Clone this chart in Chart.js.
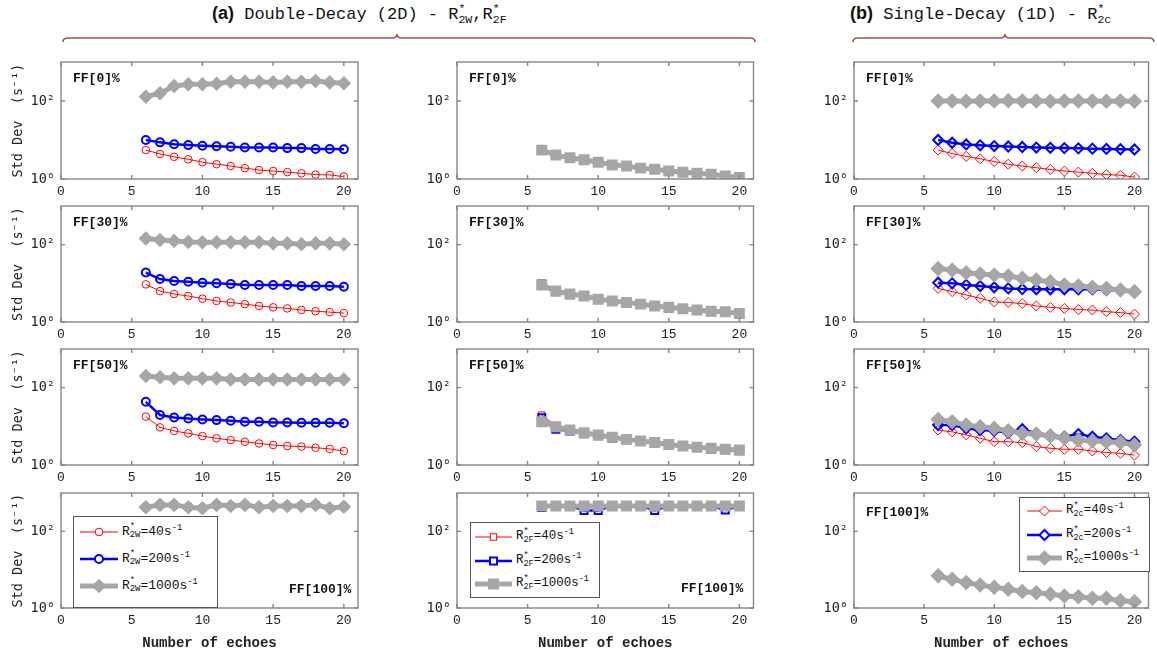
<!DOCTYPE html>
<html>
<head>
<meta charset="utf-8">
<script src="https://cdn.jsdelivr.net/npm/chart.js@4.4.0/dist/chart.umd.min.js"></script>
<style>
  body { margin: 0; background: #fff; width: 1157px; height: 657px; position: relative; overflow: hidden;
         font-family: 'Liberation Mono', 'Courier New', monospace; color: #111; }
  canvas { position: absolute; }
  .title { position: absolute; top: 3px; font-size: 17px; white-space: nowrap; }
  .title b { font-family: 'Liberation Sans', Arial, sans-serif; font-size: 18px; }
  .stk { display: inline-block; vertical-align: -0.32em; font-size: 0.68em; line-height: 0.9em; text-align: left; }
  .stk span { display: block; }
  .ff { position: absolute; font-weight: bold; font-size: 13px; line-height: 15px; white-space: nowrap; }
  .legend { position: absolute; border: 1px solid #555; background: #fff; box-sizing: border-box; }
  .legend .row { position: absolute; left: 0; height: 20px; display: flex; align-items: center; white-space: nowrap; }
  .legend sup { font-size: 0.68em; vertical-align: 0.55em; line-height: 0; }
  #braces { position: absolute; left: 0; top: 0; }
</style>
</head>
<body>

<div class="title" style="left:212px"><b>(a)</b> Double-Decay (2D) - R<span class="stk"><span>*</span><span>2W</span></span>,R<span class="stk"><span>*</span><span>2F</span></span></div>
<div class="title" style="left:850px"><b>(b)</b> Single-Decay (1D) - R<span class="stk"><span>*</span><span>2c</span></span></div>

<svg id="braces" width="1157" height="50">
  <path d="M63,42 Q63,38 68,38 L392,38 Q397,38 397,34 Q397,38 402,38 L750,38 Q755,38 755,42"
        fill="none" stroke="#a0564a" stroke-width="1.6"/>
  <path d="M853,42 Q853,38 858,38 L1000,38 Q1005,38 1005,34 Q1005,38 1010,38 L1149,38 Q1154,38 1154,42"
        fill="none" stroke="#a0564a" stroke-width="1.6"/>
</svg>

<script>
// ---- data ----
const echoes = [6, 7, 8, 9, 10, 11, 12, 13, 14, 15, 16, 17, 18, 19, 20];
const ffLabels = ['FF[0]%', 'FF[30]%', 'FF[50]%', 'FF[100]%'];
const xTicks = [0, 5, 10, 15, 20];
const yTicks = [1, 100];
const yTickLabels = ['10\u2070', '10\u00b2'];
const rateLabels = ['40', '200', '1000'];
const subLabels = ['2W', '2F', '2c'];

// (a) left column, R*2W -- one row per FF level
const w40 = [
  [5.5, 4.4, 3.7, 3.2, 2.7, 2.4, 2.15, 1.9, 1.7, 1.6, 1.5, 1.4, 1.3, 1.27, 1.15],
  [9.4, 6.3, 5.3, 4.7, 4.0, 3.5, 3.2, 2.9, 2.6, 2.4, 2.25, 2.05, 1.9, 1.8, 1.7],
  [17.8, 9.4, 7.6, 6.6, 5.6, 4.9, 4.4, 4.0, 3.6, 3.3, 3.1, 3.0, 2.8, 2.6, 2.3],
  [425, 490, 490, 425, 400, 490, 460, 490, 425, 460, 460, 440, 490, 400, 440]
];
const w200 = [
  [10, 8.7, 7.8, 7.4, 7.1, 6.9, 6.7, 6.4, 6.4, 6.4, 6.2, 6.2, 5.9, 5.9, 5.8],
  [19, 12.9, 11.5, 11, 10.4, 10, 9.6, 9.1, 9.1, 9.1, 9.1, 8.5, 8.5, 8.5, 8.2],
  [43, 19.6, 17, 16, 15.1, 14.5, 13.9, 13.1, 13.1, 12.6, 12.6, 12.4, 12.4, 12.4, 12.0],
  [425, 490, 490, 425, 400, 490, 460, 490, 425, 460, 460, 460, 490, 400, 440]
];
const w1000 = [
  [129, 158, 241, 268, 268, 277, 311, 311, 311, 300, 311, 311, 325, 300, 285],
  [145, 132, 124, 118, 115, 115, 115, 115, 115, 108, 108, 102, 108, 108, 102],
  [200, 185, 174, 174, 174, 174, 163, 163, 163, 163, 163, 163, 163, 163, 163],
  [425, 490, 490, 425, 400, 490, 460, 490, 425, 460, 460, 460, 490, 400, 440]
];

// (a) middle column, R*2F
const f40 = [
  [5.5, 4.1, 3.5, 3.1, 2.7, 2.3, 2.15, 1.9, 1.77, 1.6, 1.48, 1.4, 1.32, 1.2, 1.1],
  [9.0, 6.3, 5.3, 4.7, 3.9, 3.5, 3.2, 2.9, 2.6, 2.4, 2.2, 2.05, 1.9, 1.85, 1.67],
  [19.6, 10.5, 8.0, 6.8, 6.0, 5.2, 4.6, 4.2, 3.8, 3.4, 3.1, 2.9, 2.7, 2.55, 2.45],
  [460, 460, 460, 455, 455, 460, 460, 460, 455, 460, 460, 460, 460, 455, 460]
];
const f200 = [
  [5.5, 4.0, 3.4, 3.0, 2.65, 2.3, 2.1, 1.9, 1.75, 1.58, 1.47, 1.38, 1.3, 1.18, 1.08],
  [9.6, 6.1, 5.1, 4.6, 3.8, 3.4, 3.1, 2.85, 2.55, 2.3, 2.15, 2.0, 1.85, 1.8, 1.62],
  [16.7, 8.4, 7.6, 6.4, 5.7, 5.0, 4.5, 4.1, 3.7, 3.3, 3.0, 2.8, 2.6, 2.5, 2.35],
  [420, 460, 460, 350, 350, 460, 460, 460, 350, 460, 460, 460, 460, 360, 460]
];
const f1000 = [
  [5.5, 4.1, 3.5, 3.1, 2.7, 2.3, 2.15, 1.9, 1.77, 1.6, 1.48, 1.4, 1.32, 1.2, 1.1],
  [9.0, 6.3, 5.3, 4.7, 3.9, 3.5, 3.2, 2.9, 2.6, 2.4, 2.2, 2.05, 1.9, 1.85, 1.67],
  [13.1, 9.8, 8.0, 6.8, 6.0, 5.2, 4.6, 4.2, 3.8, 3.4, 3.1, 2.9, 2.7, 2.55, 2.45],
  [460, 460, 460, 460, 460, 460, 460, 460, 460, 460, 460, 460, 460, 460, 460]
];

// (b) right column, R*2c
const c40 = [
  [5.5, 4.5, 3.8, 3.3, 2.8, 2.4, 2.15, 1.95, 1.75, 1.6, 1.5, 1.4, 1.3, 1.25, 1.12],
  [7.4, 6.1, 5.0, 4.1, 3.3, 3.2, 3.0, 2.6, 2.4, 2.25, 2.1, 2.04, 1.85, 1.75, 1.6],
  [8.0, 7.2, 6.0, 4.9, 4.0, 4.0, 3.8, 3.0, 2.7, 2.55, 2.55, 2.3, 2.1, 2.0, 1.8],
  [6.9, 5.6, 4.6, 4.0, 3.5, 3.1, 2.7, 2.5, 2.3, 2.05, 1.97, 1.8, 1.8, 1.55, 1.45]
];
const c200 = [
  [10, 8.5, 7.7, 7.3, 7.0, 6.8, 6.6, 6.4, 6.3, 6.2, 6.1, 6.0, 5.9, 5.8, 5.7],
  [10.4, 10, 9.1, 8.5, 7.9, 7.4, 7.1, 7.0, 7.0, 7.0, 7.0, 7.0, 6.7, 6.5, 6.1],
  [10.8, 10.8, 8.9, 8.0, 7.7, 6.8, 8.4, 6.6, 6.0, 5.4, 6.3, 5.4, 4.9, 4.4, 4.0],
  [6.9, 5.6, 4.6, 4.0, 3.5, 3.1, 2.7, 2.5, 2.3, 2.05, 1.97, 1.8, 1.8, 1.55, 1.45]
];
const c1000 = [
  [100, 100, 99, 100, 100, 101, 100, 100, 99, 100, 100, 100, 99, 100, 99],
  [24, 22, 18.8, 17.4, 16.4, 15.4, 13.5, 12.2, 11, 9.1, 8.5, 7.9, 7.4, 6.7, 6.1],
  [15.1, 13.1, 10.8, 9.8, 8.9, 7.7, 6.6, 6.3, 5.6, 4.9, 4.4, 4.2, 4.0, 3.8, 3.3],
  [6.9, 5.6, 4.6, 4.0, 3.5, 3.1, 2.7, 2.5, 2.3, 2.05, 1.97, 1.8, 1.8, 1.55, 1.45]
];

const columns = [[w40, w200, w1000], [f40, f200, f1000], [c40, c200, c1000]];

// ---- styling / layout ----
const mono = "'Liberation Mono', 'Courier New', monospace";
const colors = ['#ff0000', '#0000ff', '#a6a6a6'];
const fills = ['rgba(0,0,0,0)', 'rgba(0,0,0,0)', '#a6a6a6'];
const lineW = [1, 2.5, 5];
const ptBorder = [1, 2, 2.5];
const shapes = [['circle', 'circle', 'rectRot'], ['rect', 'rect', 'rect'], ['rectRot', 'rectRot', 'rectRot']];
const ptRadius = [[3.8, 4, 5.5], [4.5, 5, 6], [5, 5, 6]];

const plotLeft = [61, 457, 854];
const plotW = [301, 301, 299];
const plotTop = [62, 206, 349, 493];
const plotH = [117, 116, 116, 115];

// MATLAB style box with inward ticks on all sides
const boxPlugin = {
  id: 'mbox',
  afterDatasetsDraw(chart) {
    const { ctx, chartArea: a, scales: { x, y } } = chart;
    ctx.save();
    ctx.strokeStyle = '#858585';
    ctx.lineWidth = 1.4;
    ctx.strokeRect(a.left, a.top, a.right - a.left, a.bottom - a.top);
    ctx.beginPath();
    x.ticks.forEach(t => {
      const px = x.getPixelForValue(t.value);
      ctx.moveTo(px, a.bottom); ctx.lineTo(px, a.bottom - 4);
      ctx.moveTo(px, a.top); ctx.lineTo(px, a.top + 4);
    });
    y.ticks.forEach(t => {
      const py = y.getPixelForValue(t.value);
      ctx.moveTo(a.left, py); ctx.lineTo(a.left + 4, py);
      ctx.moveTo(a.right, py); ctx.lineTo(a.right - 4, py);
    });
    ctx.stroke();
    ctx.restore();
  }
};

function makePanel(r, c) {
  const padL = c === 0 ? 61 : 45, padT = 16, padR = 4, padB = r === 3 ? 50 : 24;
  const cv = document.createElement('canvas');
  const w = padL + plotW[c] + padR, h = padT + plotH[r] + padB;
  cv.width = w; cv.height = h;
  cv.style.left = (plotLeft[c] - padL) + 'px';
  cv.style.top = (plotTop[r] - padT) + 'px';
  document.body.appendChild(cv);

  const series = columns[c];
  const datasets = series.map((s, k) => ({
    data: echoes.map((e, i) => ({ x: e, y: s[r][i] })),
    borderColor: colors[k],
    borderWidth: lineW[k],
    pointStyle: shapes[c][k],
    pointRadius: ptRadius[c][k],
    pointBorderWidth: ptBorder[k],
    pointBorderColor: colors[k],
    pointBackgroundColor: fills[k],
    order: 2 - k,
    tension: 0,
  }));

  new Chart(cv, {
    type: 'line',
    data: { datasets },
    options: {
      responsive: false,
      animation: false,
      layout: { padding: { left: 0, top: padT, right: padR, bottom: 0 } },
      plugins: { legend: { display: false }, tooltip: { enabled: false } },
      scales: {
        x: {
          type: 'linear', min: 0, max: 21,
          grid: { display: false, drawTicks: false },
          border: { display: false },
          afterBuildTicks: s => { s.ticks = xTicks.map(v => ({ value: v })); },
          afterFit: s => { s.height = padB; },
          ticks: { color: '#222', padding: 5, font: { family: mono, size: 13 }, maxRotation: 0 },
          title: {
            display: r === 3, text: 'Number of echoes', color: '#222',
            font: { family: mono, size: 14, weight: 'bold' }, padding: { top: 0, bottom: 6 }
          }
        },
        y: {
          type: 'logarithmic', min: 1, max: 1000,
          grid: { display: false, drawTicks: false },
          border: { display: false },
          afterBuildTicks: s => { s.ticks = yTicks.map(v => ({ value: v })); },
          afterFit: s => { s.width = padL; },
          ticks: {
            color: '#222', padding: 6, font: { family: "'DejaVu Sans Mono', monospace", size: 13.5 },
            callback: v => yTickLabels[yTicks.indexOf(v)]
          },
          title: {
            display: c === 0, text: 'Std Dev  (s\u207b\u00b9)', color: '#222',
            font: { family: "'DejaVu Sans Mono', monospace", size: 13.5 }, padding: { top: 10, bottom: 0 }
          }
        }
      }
    },
    plugins: [boxPlugin]
  });
}

for (let r = 0; r < 4; r++) for (let c = 0; c < 3; c++) makePanel(r, c);

// ---- FF labels ----
function ffLabel(text, left, top) {
  const d = document.createElement('div');
  d.className = 'ff';
  d.textContent = text;
  d.style.left = left + 'px';
  d.style.top = top + 'px';
  document.body.appendChild(d);
}
for (let r = 0; r < 3; r++) for (let c = 0; c < 3; c++) ffLabel(ffLabels[r], plotLeft[c] + 12, plotTop[r] + 9);
ffLabel(ffLabels[3], 289, 582);
ffLabel(ffLabels[3], 681, 581);
ffLabel(ffLabels[3], plotLeft[2] + 12, plotTop[3] + 12);

// ---- legends ----
function sample(k, c, len) {
  const ns = 'http://www.w3.org/2000/svg';
  const svg = document.createElementNS(ns, 'svg');
  svg.setAttribute('width', len); svg.setAttribute('height', 16);
  const mid = len / 2, rr = ptRadius[c][k];
  const ln = document.createElementNS(ns, 'line');
  ln.setAttribute('x1', 0); ln.setAttribute('x2', len); ln.setAttribute('y1', 8); ln.setAttribute('y2', 8);
  ln.setAttribute('stroke', colors[k]); ln.setAttribute('stroke-width', lineW[k]);
  svg.appendChild(ln);
  let m;
  const shape = shapes[c][k];
  if (shape === 'circle') {
    m = document.createElementNS(ns, 'circle');
    m.setAttribute('cx', mid); m.setAttribute('cy', 8); m.setAttribute('r', rr);
  } else if (shape === 'rect') {
    const hs = rr * Math.SQRT1_2;
    m = document.createElementNS(ns, 'rect');
    m.setAttribute('x', mid - hs); m.setAttribute('y', 8 - hs);
    m.setAttribute('width', 2 * hs); m.setAttribute('height', 2 * hs);
  } else {
    m = document.createElementNS(ns, 'polygon');
    m.setAttribute('points', `${mid},${8 - rr} ${mid + rr},8 ${mid},${8 + rr} ${mid - rr},8`);
  }
  m.setAttribute('fill', k === 2 ? colors[k] : 'white');
  m.setAttribute('stroke', colors[k]); m.setAttribute('stroke-width', ptBorder[k]);
  svg.appendChild(m);
  return svg;
}

function legend(c, box, rowsY, lineX, lineLen, textX, fontSize) {
  const lg = document.createElement('div');
  lg.className = 'legend';
  Object.assign(lg.style, { left: box[0] + 'px', top: box[1] + 'px', width: box[2] + 'px', height: box[3] + 'px' });
  rateLabels.forEach((rate, k) => {
    const row = document.createElement('div');
    row.className = 'row';
    row.style.top = (rowsY[k] - box[1] - 10) + 'px';
    row.style.left = (lineX - box[0] - 1) + 'px';
    row.style.fontSize = fontSize + 'px';
    const sv = sample(k, c, lineLen);
    sv.style.marginRight = (textX - lineX - lineLen) + 'px';
    row.appendChild(sv);
    const t = document.createElement('span');
    t.innerHTML = 'R<span class="stk"><span>*</span><span>' + subLabels[c] + '</span></span>=' + rate + 's<sup>-1</sup>';
    row.appendChild(t);
    lg.appendChild(row);
  });
  document.body.appendChild(lg);
}
legend(0, [73, 516, 145, 92], [531, 558, 585], 80, 38, 122, 13);
legend(1, [470, 522, 130, 76], [536, 560, 583], 475, 37, 516, 12.5);
legend(2, [1019, 497, 131, 75], [510, 534, 557], 1027, 35, 1066, 12.5);
</script>
</body>
</html>
